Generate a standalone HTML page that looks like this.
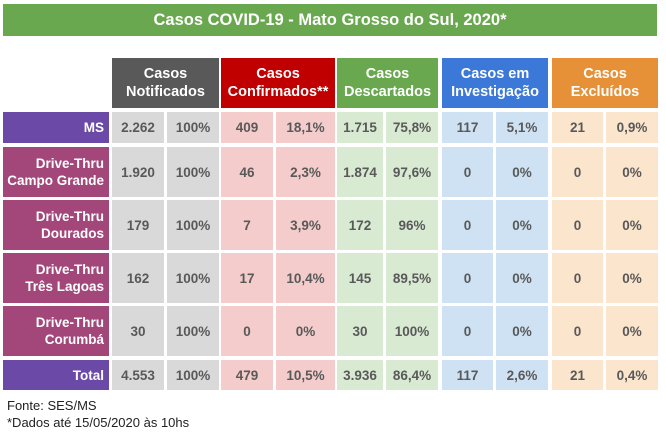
<!DOCTYPE html>
<html><head><meta charset="utf-8"><style>
body{margin:0;width:666px;height:435px;background:#fff;font-family:"Liberation Sans",sans-serif;position:relative;overflow:hidden}
div.c{position:absolute;display:flex;align-items:center;justify-content:center;text-align:center;font-weight:bold;font-size:13.5px;color:#595959;line-height:17px}
.h{color:#fff!important;font-size:14.5px!important;line-height:18px!important}
.l{color:#fff!important;justify-content:flex-end!important;text-align:right!important;padding-right:5px;box-sizing:border-box}
.g{background:#d9d9d9}.p{background:#f4cccc}.gr{background:#d9ead3}.b{background:#cfe2f3}.o{background:#fce5cd}
.ms{background:#6a4aa6}.dt{background:#a3477b}
</style></head><body>
<div class="c h" style="left:3px;top:4px;width:654px;height:32px;background:#6aa84f;font-size:16.5px!important">Casos COVID-19 - Mato Grosso do Sul, 2020*</div>

<div class="c h" style="left:112px;top:58px;width:107px;height:50px;background:#595959">Casos<br>Notificados</div>
<div class="c h" style="left:221px;top:58px;width:114px;height:50px;background:#c00000">Casos<br>Confirmados**</div>
<div class="c h" style="left:337px;top:58px;width:101px;height:50px;background:#6aa84f">Casos<br>Descartados</div>
<div class="c h" style="left:442px;top:58px;width:106px;height:50px;background:#3c78d8">Casos em<br>Investigação</div>
<div class="c h" style="left:552px;top:58px;width:106px;height:50px;background:#e69138">Casos<br>Excluídos</div>

<div class="c l ms" style="left:3px;top:112px;width:106px;height:31px">MS</div>
<div class="c g" style="left:112px;top:112px;width:52px;height:31px">2.262</div>
<div class="c g" style="left:167px;top:112px;width:52px;height:31px">100%</div>
<div class="c p" style="left:221px;top:112px;width:52px;height:31px">409</div>
<div class="c p" style="left:276px;top:112px;width:59px;height:31px">18,1%</div>
<div class="c gr" style="left:337px;top:112px;width:46px;height:31px">1.715</div>
<div class="c gr" style="left:386px;top:112px;width:52px;height:31px">75,8%</div>
<div class="c b" style="left:442px;top:112px;width:51px;height:31px">117</div>
<div class="c b" style="left:496px;top:112px;width:52px;height:31px">5,1%</div>
<div class="c o" style="left:552px;top:112px;width:51px;height:31px">21</div>
<div class="c o" style="left:606px;top:112px;width:52px;height:31px">0,9%</div>

<div class="c l dt" style="left:3px;top:147px;width:106px;height:50px">Drive-Thru<br>Campo Grande</div>
<div class="c g" style="left:112px;top:147px;width:52px;height:50px">1.920</div>
<div class="c g" style="left:167px;top:147px;width:52px;height:50px">100%</div>
<div class="c p" style="left:221px;top:147px;width:52px;height:50px">46</div>
<div class="c p" style="left:276px;top:147px;width:59px;height:50px">2,3%</div>
<div class="c gr" style="left:337px;top:147px;width:46px;height:50px">1.874</div>
<div class="c gr" style="left:386px;top:147px;width:52px;height:50px">97,6%</div>
<div class="c b" style="left:442px;top:147px;width:51px;height:50px">0</div>
<div class="c b" style="left:496px;top:147px;width:52px;height:50px">0%</div>
<div class="c o" style="left:552px;top:147px;width:51px;height:50px">0</div>
<div class="c o" style="left:606px;top:147px;width:52px;height:50px">0%</div>

<div class="c l dt" style="left:3px;top:200px;width:106px;height:50px">Drive-Thru<br>Dourados</div>
<div class="c g" style="left:112px;top:200px;width:52px;height:50px">179</div>
<div class="c g" style="left:167px;top:200px;width:52px;height:50px">100%</div>
<div class="c p" style="left:221px;top:200px;width:52px;height:50px">7</div>
<div class="c p" style="left:276px;top:200px;width:59px;height:50px">3,9%</div>
<div class="c gr" style="left:337px;top:200px;width:46px;height:50px">172</div>
<div class="c gr" style="left:386px;top:200px;width:52px;height:50px">96%</div>
<div class="c b" style="left:442px;top:200px;width:51px;height:50px">0</div>
<div class="c b" style="left:496px;top:200px;width:52px;height:50px">0%</div>
<div class="c o" style="left:552px;top:200px;width:51px;height:50px">0</div>
<div class="c o" style="left:606px;top:200px;width:52px;height:50px">0%</div>

<div class="c l dt" style="left:3px;top:253px;width:106px;height:50px">Drive-Thru<br>Três Lagoas</div>
<div class="c g" style="left:112px;top:253px;width:52px;height:50px">162</div>
<div class="c g" style="left:167px;top:253px;width:52px;height:50px">100%</div>
<div class="c p" style="left:221px;top:253px;width:52px;height:50px">17</div>
<div class="c p" style="left:276px;top:253px;width:59px;height:50px">10,4%</div>
<div class="c gr" style="left:337px;top:253px;width:46px;height:50px">145</div>
<div class="c gr" style="left:386px;top:253px;width:52px;height:50px">89,5%</div>
<div class="c b" style="left:442px;top:253px;width:51px;height:50px">0</div>
<div class="c b" style="left:496px;top:253px;width:52px;height:50px">0%</div>
<div class="c o" style="left:552px;top:253px;width:51px;height:50px">0</div>
<div class="c o" style="left:606px;top:253px;width:52px;height:50px">0%</div>

<div class="c l dt" style="left:3px;top:306px;width:106px;height:50px">Drive-Thru<br>Corumbá</div>
<div class="c g" style="left:112px;top:306px;width:52px;height:50px">30</div>
<div class="c g" style="left:167px;top:306px;width:52px;height:50px">100%</div>
<div class="c p" style="left:221px;top:306px;width:52px;height:50px">0</div>
<div class="c p" style="left:276px;top:306px;width:59px;height:50px">0%</div>
<div class="c gr" style="left:337px;top:306px;width:46px;height:50px">30</div>
<div class="c gr" style="left:386px;top:306px;width:52px;height:50px">100%</div>
<div class="c b" style="left:442px;top:306px;width:51px;height:50px">0</div>
<div class="c b" style="left:496px;top:306px;width:52px;height:50px">0%</div>
<div class="c o" style="left:552px;top:306px;width:51px;height:50px">0</div>
<div class="c o" style="left:606px;top:306px;width:52px;height:50px">0%</div>

<div class="c l ms" style="left:3px;top:360px;width:106px;height:30px">Total</div>
<div class="c g" style="left:112px;top:360px;width:52px;height:30px">4.553</div>
<div class="c g" style="left:167px;top:360px;width:52px;height:30px">100%</div>
<div class="c p" style="left:221px;top:360px;width:52px;height:30px">479</div>
<div class="c p" style="left:276px;top:360px;width:59px;height:30px">10,5%</div>
<div class="c gr" style="left:337px;top:360px;width:46px;height:30px">3.936</div>
<div class="c gr" style="left:386px;top:360px;width:52px;height:30px">86,4%</div>
<div class="c b" style="left:442px;top:360px;width:51px;height:30px">117</div>
<div class="c b" style="left:496px;top:360px;width:52px;height:30px">2,6%</div>
<div class="c o" style="left:552px;top:360px;width:51px;height:30px">21</div>
<div class="c o" style="left:606px;top:360px;width:52px;height:30px">0,4%</div>

<div style="position:absolute;left:7px;top:397px;font-size:13px;color:#222;line-height:17px">Fonte: SES/MS<br>*Dados até 15/05/2020 às 10hs</div>
</body></html>
